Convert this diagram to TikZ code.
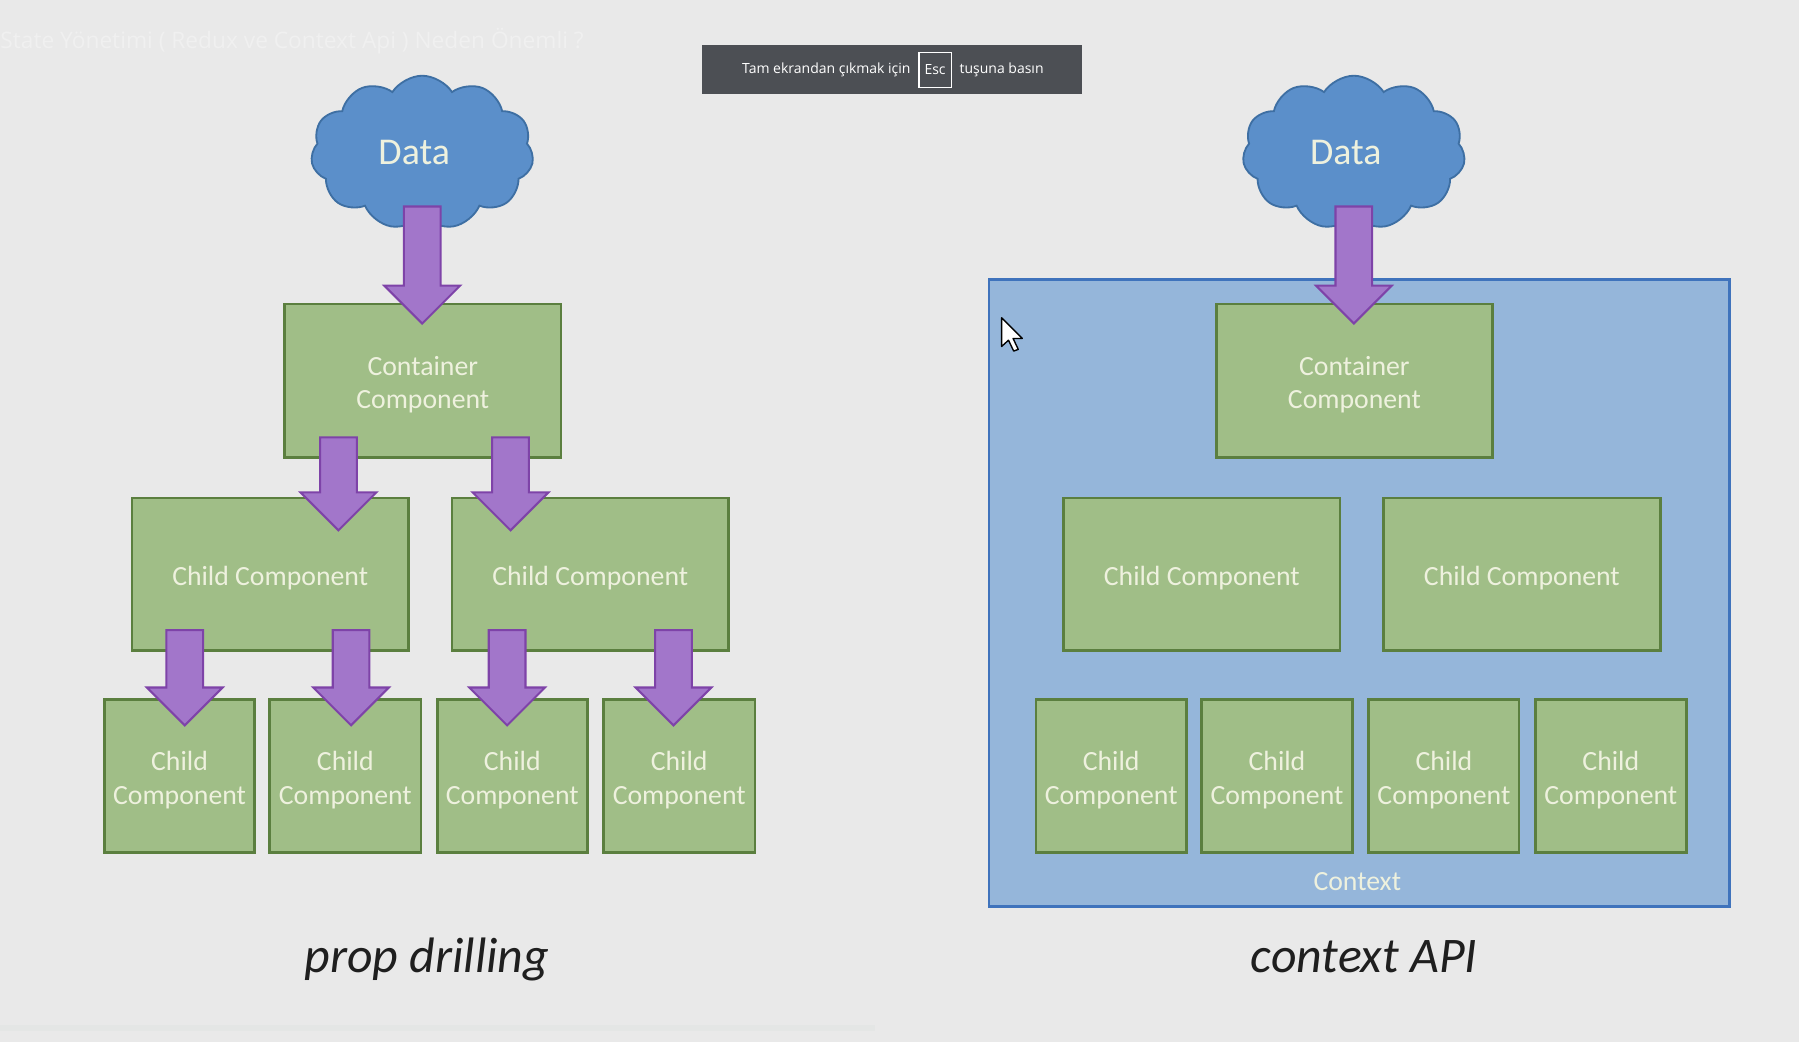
\documentclass[tikz,border=0pt]{standalone}
\usepackage{fontspec}
\setmainfont{Carlito}
\newfontfamily\uifont{Open Sans}
\usetikzlibrary{shapes.symbols,calc}
\definecolor{bgc}{HTML}{E9E9E9}
\definecolor{stripc}{HTML}{E4E6E5}
\definecolor{greenfill}{HTML}{A0BE87}
\definecolor{greenline}{HTML}{5B7F3F}
\definecolor{purplefill}{HTML}{A276CA}
\definecolor{purpleline}{HTML}{7E43A8}
\definecolor{cloudfill}{HTML}{5B8FCA}
\definecolor{cloudline}{HTML}{3E6FA3}
\definecolor{ctxfill}{HTML}{95B6DA}
\definecolor{ctxline}{HTML}{3F73BC}
\definecolor{boxtext}{HTML}{EEF1DE}
\definecolor{toastc}{HTML}{4C4F54}
\tikzset{
  comp/.style={draw=greenline, fill=greenfill, line width=1.2pt, inner sep=0pt,
    label={[text=boxtext, align=center, font=\fontsize{12.1}{14.5}\selectfont, yshift=-1.75pt, inner sep=0pt]center:#1}},
  bigcomp/.style={comp=#1, minimum width=120.5pt, minimum height=67pt},
  smallcomp/.style={comp=#1, minimum width=66pt, minimum height=66.5pt},
  datacloud/.style={cloud, cloud puffs=11, cloud puff arc=115, aspect=1.42,
    draw=cloudline, fill=cloudfill, line width=0.8pt, minimum width=97pt, minimum height=67pt, inner sep=0pt},
  arrowstyle/.style={draw=purpleline, fill=purplefill, line width=0.9pt, line join=miter},
  caption/.style={font=\fontsize{21.7}{26}\selectfont\itshape, text=black!88},
  pics/parrow/.style={code={
    \draw[arrowstyle] (-16,0) -- (16,0) -- (16,#1-33) -- (33,#1-33) -- (0,#1)
      -- (-33,#1-33) -- (-16,#1-33) -- cycle;}}
}
\begin{document}
\begin{tikzpicture}[x=0.5pt,y=-0.5pt]
\useasboundingbox (0,0) rectangle (1568,908.2);
\fill[bgc] (0,0) rectangle (1568,908.2);
\fill[stripc] (0,893) rectangle (763,899);
% faint title
\node[anchor=west, font=\uifont\fontsize{9.9}{11}\selectfont, text=white!30!bgc, inner sep=0pt] (title) at (0,36) {State Yönetimi ( Redux ve Context Api ) Neden Önemli ?};

% ---------- left: prop drilling ----------
\node[datacloud] (cloudL) at (368,133) {};
\node[text=boxtext, font=\fontsize{16.5}{18}\selectfont] (dataL) at (361,133) {Data};
\node[bigcomp={Container\\Component}] (contL) at (368.5,332) {};
\node[bigcomp={Child Component}, minimum height=66.5pt] (chL1) at (235.5,500.5) {};
\node[bigcomp={Child Component}, minimum height=66.5pt] (chL2) at (514.5,500.5) {};
\node[smallcomp={Child\\Component}, minimum width=65.5pt] (gL1) at (156.5,676.5) {};
\node[smallcomp={Child\\Component}] (gL2) at (301,676.5) {};
\node[smallcomp={Child\\Component}, minimum width=65.5pt] (gL3) at (446.5,676.5) {};
\node[smallcomp={Child\\Component}] (gL4) at (592,676.5) {};
\pic at ($(cloudL.center)+(0,47)$) {parrow=102};
\pic at ($(contL.south)+(-73.5,-19)$) {parrow=81};
\pic at ($(contL.south)+(76.5,-19)$) {parrow=81};
\pic at ($(chL1.south)+(-74.5,-19)$) {parrow=83};
\pic at ($(chL1.south)+(70.5,-19)$) {parrow=83};
\pic at ($(chL2.south)+(-72.5,-19)$) {parrow=83};
\pic at ($(chL2.south)+(72.5,-19)$) {parrow=83};
\node[caption] (capL) at (372,836) {prop drilling};

% ---------- right: context API ----------
\node[draw=ctxline, fill=ctxfill, line width=1.3pt, minimum width=322.5pt, minimum height=273pt, inner sep=0pt] (ctx) at (1184.5,517) {};
\node[text=boxtext, font=\fontsize{12.1}{14.5}\selectfont] (ctxlabel) at (1183,768) {Context};
\node[datacloud] (cloudR) at (1180,133) {};
\node[text=boxtext, font=\fontsize{16.5}{18}\selectfont] (dataR) at (1173,133) {Data};
\node[bigcomp={Container\\Component}] (contR) at (1180.5,332) {};
\node[bigcomp={Child Component}, minimum height=66.5pt] (chR1) at (1047.5,500.5) {};
\node[bigcomp={Child Component}, minimum height=66.5pt] (chR2) at (1326.5,500.5) {};
\node[smallcomp={Child\\Component}, minimum width=65.5pt] (gR1) at (968.5,676.5) {};
\node[smallcomp={Child\\Component}] (gR2) at (1113,676.5) {};
\node[smallcomp={Child\\Component}, minimum width=65.5pt] (gR3) at (1258.5,676.5) {};
\node[smallcomp={Child\\Component}] (gR4) at (1404,676.5) {};
\pic at ($(cloudR.center)+(0,47)$) {parrow=102};
\node[caption] (capR) at (1189,834) {context API};

% mouse cursor
\draw[fill=white, draw=black, line width=0.6pt, line join=round]
  (873,277) -- (873,302) -- (879,296.5) -- (883.5,306) -- (887.5,304.5) -- (883,295) -- (891,295) -- cycle;

% ---------- fullscreen toast ----------
\fill[toastc] (612,39) rectangle (943,82);
\node[anchor=east, font=\uifont\fontsize{6.1}{8}\selectfont, text=white, inner sep=0pt] (toast1) at (794,61) {Tam ekrandan çıkmak için};
\node[draw=white, line width=0.5pt, minimum width=14pt, minimum height=15pt, inner sep=0pt, font=\uifont\fontsize{6.1}{8}\selectfont, text=white] (esc) at (815,61) {Esc};
\node[anchor=west, font=\uifont\fontsize{6.1}{8}\selectfont, text=white, inner sep=0pt] (toast2) at (836,61) {tuşuna basın};
\end{tikzpicture}
\end{document}
